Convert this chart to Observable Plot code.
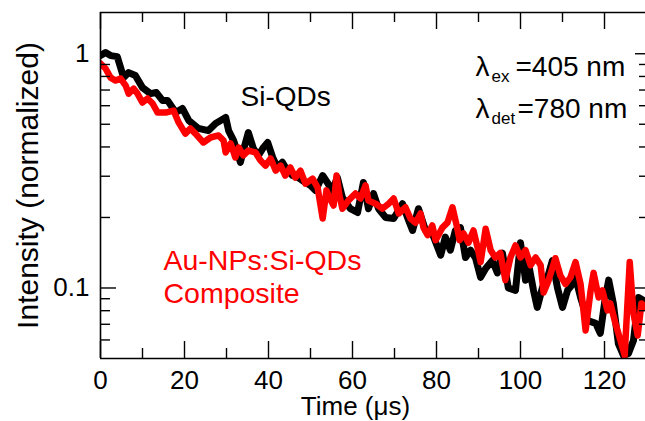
<!DOCTYPE html>
<html><head><meta charset="utf-8">
<script src="https://cdn.jsdelivr.net/npm/d3@7"></script>
<script src="https://cdn.jsdelivr.net/npm/@observablehq/plot@0.6"></script>
<style>html,body{margin:0;padding:0;background:#fff;overflow:hidden;}</style>
</head><body><div id="chart"></div>
<script>
// Si-QDs (black)
const tSi = [0,1.2,2.4,4.0,5.5,6.7,8.3,10.0,11.9,13.3,14.8,16.0,17.9,19.5,21.0,23.3,25.7,27.4,28.6,29.8,30.5,31.7,32.6,33.3,34.0,35.2,36.4,37.6,38.8,39.8,41.0,42.1,43.3,44.5,45.7,47.1,48.8,50.0,51.2,52.9,54.0,55.2,56.4,57.6,59.5,61.2,62.6,63.8,65.0,66.2,67.9,69.8,71.9,73.1,74.3,75.7,77.4,79.0,81.0,82.1,83.3,84.5,85.7,86.9,88.1,89.3,90.5,91.7,93.3,94.5,95.7,97.1,98.8,100.0,101.2,101.9,103.1,104.0,105.2,106.7,107.6,108.8,110.0,111.2,112.4,113.1,114.3,116.0,117.9,119.0,120.2,121.0,122.1,123.3,124.5,125.7,126.9,128.1,129.3,129.8];
const iSi = [0.982,1.012,0.982,0.972,0.791,0.831,0.807,0.717,0.676,0.683,0.631,0.631,0.561,0.584,0.519,0.480,0.470,0.504,0.519,0.535,0.470,0.426,0.379,0.344,0.386,0.461,0.394,0.368,0.398,0.418,0.361,0.327,0.344,0.317,0.302,0.296,0.282,0.274,0.261,0.302,0.282,0.261,0.296,0.243,0.218,0.210,0.282,0.218,0.253,0.218,0.200,0.198,0.229,0.200,0.176,0.218,0.176,0.171,0.138,0.165,0.145,0.176,0.181,0.135,0.145,0.134,0.111,0.121,0.131,0.116,0.141,0.100,0.0976,0.156,0.108,0.127,0.0976,0.0826,0.100,0.115,0.131,0.100,0.0826,0.0976,0.104,0.111,0.0911,0.0727,0.0706,0.0640,0.0911,0.108,0.0859,0.0579,0.0515,0.0525,0.0597,0.0911,0.0884,0.0842];
// Au-NPs:Si-QDs composite (red)
const tAu = [0,1.2,2.4,3.6,4.8,6.0,6.7,7.9,8.8,10.0,11.2,12.4,13.6,15.5,17.4,18.6,20.2,21.4,22.6,24.5,26.2,28.1,29.3,29.8,31.0,32.1,32.9,34.0,35.2,36.9,38.1,39.3,40.5,41.7,42.9,44.0,45.2,46.4,47.6,48.8,50.5,51.7,52.9,53.8,54.5,55.5,56.2,56.9,57.6,59.0,60.7,61.9,63.1,63.8,65.5,67.1,68.6,69.8,71.0,72.6,73.8,75.0,76.2,76.9,77.9,79.0,79.8,81.4,82.6,83.8,84.8,85.5,86.4,87.6,88.8,89.8,90.5,91.7,92.9,94.0,95.2,96.4,97.6,98.8,100.0,101.2,102.4,103.6,104.8,105.5,106.7,108.3,109.5,110.7,111.9,113.1,114.3,115.5,116.7,117.4,118.6,119.5,120.7,121.4,122.6,123.8,124.8,126.0,126.9,127.9,128.8,129.8];
const iAu = [0.908,0.865,0.791,0.768,0.784,0.731,0.676,0.710,0.676,0.619,0.644,0.613,0.561,0.561,0.572,0.509,0.456,0.480,0.456,0.418,0.439,0.448,0.426,0.379,0.414,0.361,0.398,0.368,0.386,0.379,0.350,0.333,0.357,0.317,0.333,0.302,0.327,0.296,0.317,0.279,0.293,0.268,0.198,0.261,0.243,0.225,0.302,0.248,0.218,0.236,0.253,0.241,0.274,0.236,0.229,0.218,0.229,0.241,0.208,0.221,0.198,0.190,0.208,0.181,0.168,0.185,0.160,0.181,0.190,0.221,0.185,0.160,0.171,0.156,0.176,0.148,0.129,0.179,0.145,0.135,0.141,0.108,0.135,0.152,0.135,0.145,0.125,0.135,0.125,0.0957,0.108,0.134,0.113,0.104,0.111,0.129,0.104,0.0659,0.0976,0.116,0.0911,0.0976,0.0802,0.0859,0.0706,0.0597,0.0515,0.129,0.0778,0.0627,0.0859,0.0826];

const xMajor = [0, 20, 40, 60, 80, 100, 120];
const xMinor = [10, 30, 50, 70, 90, 110];
const yMajor = [0.1, 1];
const yMinor = [0.06, 0.07, 0.08, 0.09, 0.2, 0.3, 0.4, 0.5, 0.6, 0.7, 0.8, 0.9];
const xTitle = "Time (μs)";
const yTitle = "Intensity (normalized)";

const si = tSi.map((t, i) => ({t, v: iSi[i]}));
const au = tAu.map((t, i) => ({t, v: iAu[i]}));

const W = 645, H = 421, mL = 100, mR = 0, mT = 12, mB = 63;
const pw = W - mL - mR, ph = H - mT - mB;
const FONT = "'Liberation Sans', Arial, Helvetica, sans-serif";
const RED = "#ff0000";

const chart = Plot.plot({
  width: W, height: H,
  marginLeft: mL, marginRight: mR, marginTop: mT, marginBottom: mB,
  style: {fontFamily: FONT, fontSize: "26px", color: "black", background: "white", overflow: "visible"},
  x: {domain: [0, 129.76], axis: null},
  y: {type: "log", domain: [0.05, 1.5], axis: null},
  marks: [
    Plot.line(si, {x: "t", y: "v", stroke: "black", strokeWidth: 7, strokeLinejoin: "round", strokeLinecap: "round", clip: true}),
    Plot.line(au, {x: "t", y: "v", stroke: RED, strokeWidth: 6.5, strokeLinejoin: "round", strokeLinecap: "round", clip: true}),
    // frame (left, top, bottom)
    Plot.ruleX([0], {stroke: "black", strokeWidth: 1.6}),
    Plot.ruleY([0.05, 1.5], {stroke: "black", strokeWidth: 1.6}),
    // inward ticks
    Plot.tickX(xMajor, {x: d => d, insetTop: ph - 17, stroke: "black", strokeWidth: 1.4}),
    Plot.tickX(xMinor, {x: d => d, insetTop: ph - 10, stroke: "black", strokeWidth: 1.4}),
    Plot.tickX(xMajor, {x: d => d, insetBottom: ph - 17, stroke: "black", strokeWidth: 1.4}),
    Plot.tickX(xMinor, {x: d => d, insetBottom: ph - 10, stroke: "black", strokeWidth: 1.4}),
    Plot.tickY(yMajor, {y: d => d, insetRight: pw - 16, stroke: "black", strokeWidth: 1.4}),
    Plot.tickY(yMinor, {y: d => d, insetRight: pw - 10, stroke: "black", strokeWidth: 1.4}),
    Plot.tickY(yMajor, {y: d => d, insetLeft: pw - 10, stroke: "black", strokeWidth: 1.4}),
    Plot.tickY(yMinor, {y: d => d, insetLeft: pw - 6, stroke: "black", strokeWidth: 1.4}),
    // tick labels
    Plot.text(xMajor, {x: d => d, frameAnchor: "bottom", text: d => String(d), dy: 22, textAnchor: "middle", lineAnchor: "middle", fontSize: 26, fill: "black"}),
    Plot.text(yMajor, {y: d => d, frameAnchor: "left", text: d => String(d), dx: -11, textAnchor: "end", lineAnchor: "middle", fontSize: 26, fill: "black"}),
    // axis titles
    Plot.text([xTitle], {frameAnchor: "bottom-left", dx: 255, dy: 48, textAnchor: "middle", lineAnchor: "middle", fontSize: 26, fill: "black"}),
    Plot.text([yTitle], {frameAnchor: "left", dx: -72, rotate: -90, textAnchor: "middle", lineAnchor: "middle", fontSize: 30, fill: "black"}),
    // annotations
    Plot.text(["Si-QDs"], {frameAnchor: "top-left", dx: 140, dy: 85, textAnchor: "start", lineAnchor: "middle", fontSize: 28, fill: "black"}),
    Plot.text(["Au-NPs:Si-QDs"], {frameAnchor: "top-left", dx: 63, dy: 248, textAnchor: "start", lineAnchor: "middle", fontSize: 28.5, fill: RED}),
    Plot.text(["Composite"], {frameAnchor: "top-left", dx: 63, dy: 281, textAnchor: "start", lineAnchor: "middle", fontSize: 28.5, fill: RED}),
    Plot.text(["λ"], {frameAnchor: "top-left", dx: 375, dy: 55, textAnchor: "start", lineAnchor: "middle", fontSize: 28, fill: "black"}),
    Plot.text(["ex"], {frameAnchor: "top-left", dx: 391, dy: 64, textAnchor: "start", lineAnchor: "middle", fontSize: 17, fill: "black"}),
    Plot.text(["=405 nm"], {frameAnchor: "top-left", dx: 415, dy: 55, textAnchor: "start", lineAnchor: "middle", fontSize: 28, fill: "black"}),
    Plot.text(["λ"], {frameAnchor: "top-left", dx: 375, dy: 97, textAnchor: "start", lineAnchor: "middle", fontSize: 28, fill: "black"}),
    Plot.text(["det"], {frameAnchor: "top-left", dx: 391, dy: 106, textAnchor: "start", lineAnchor: "middle", fontSize: 17, fill: "black"}),
    Plot.text(["=780 nm"], {frameAnchor: "top-left", dx: 417, dy: 97, textAnchor: "start", lineAnchor: "middle", fontSize: 28, fill: "black"})
  ]
});
document.getElementById("chart").appendChild(chart);
</script>
</body></html>
